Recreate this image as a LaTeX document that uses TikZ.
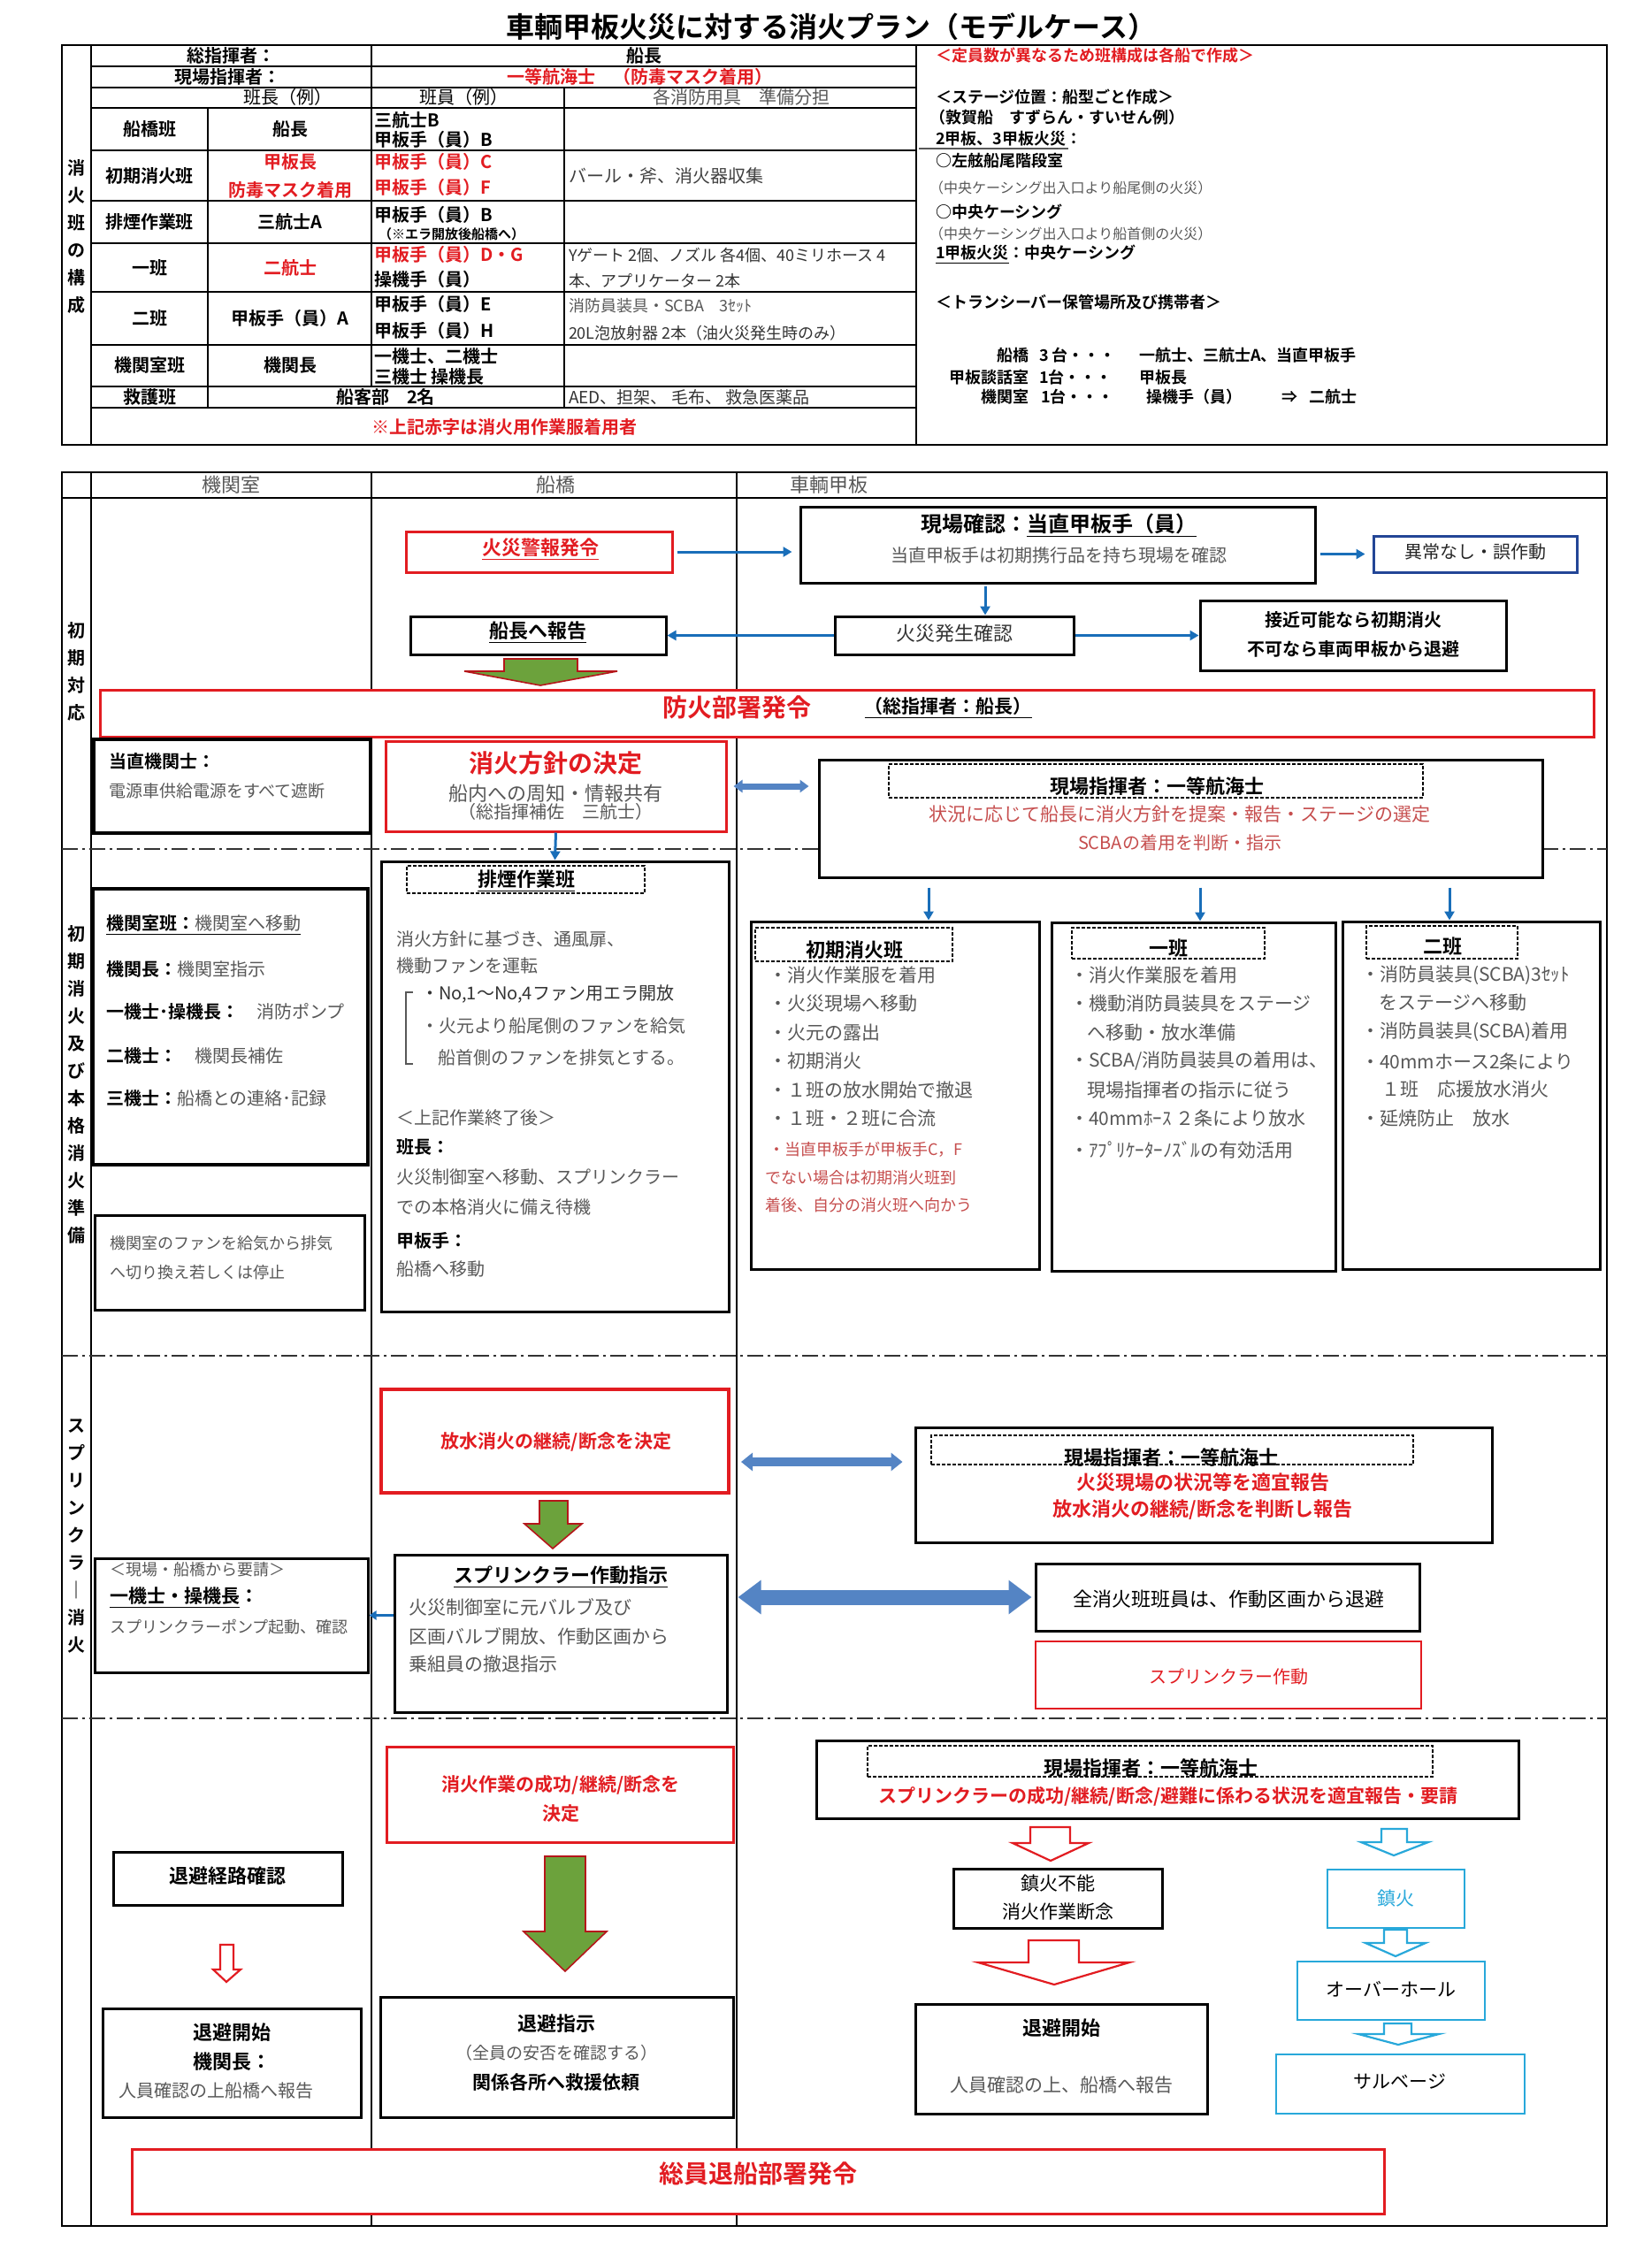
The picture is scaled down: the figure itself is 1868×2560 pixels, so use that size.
\documentclass[tikz,border=0pt]{standalone}
\usepackage{fontspec}
\setmainfont{Noto Sans CJK JP}[BoldFont={Noto Sans CJK JP Bold}]
\usetikzlibrary{arrows.meta,fit,calc}
\definecolor{myred}{RGB}{226,28,33}
\definecolor{lred}{RGB}{198,78,78}
\definecolor{tgray}{RGB}{88,88,88}
\definecolor{ablue}{RGB}{25,110,185}
\definecolor{fblue}{RGB}{84,132,196}
\definecolor{agreen}{RGB}{108,162,60}
\definecolor{mycyan}{RGB}{40,168,218}
\definecolor{nblue}{RGB}{35,70,150}
\newcommand\fsz[2]{\fontsize{#1}{#2}\selectfont}
\begin{document}
\begin{tikzpicture}[x=0.5pt,y=-0.5pt,
 txt/.style={inner sep=0pt,outer sep=0pt},
 fr/.style={txt,font=\fsz{#1}{#1}},
 fb/.style={txt,font=\bfseries\fsz{#1}{#1}},
 vlab/.style={txt,align=center,font=\bfseries\fsz{10}{15.5}},
 tline/.style={line width=1.2pt},
 lline/.style={line width=1pt},
 ddot/.style={line width=1.1pt,draw=black!80,dash pattern=on 9pt off 2.5pt on 1.5pt off 2.5pt},
 bx/.style={draw=black,line width=1.5pt,fill=white,inner sep=0pt},
 rbx/.style={draw=myred,line width=1.5pt,fill=white,inner sep=0pt},
 cbx/.style={draw=mycyan,line width=1.3pt,fill=white,inner sep=0pt},
 dbx/.style={draw=black,line width=0.9pt,dash pattern=on 2pt off 1pt,inner sep=0pt},
 barr/.style={draw=ablue,line width=1.5pt,-{Triangle[length=5pt,width=5.5pt]}},
 garr/.style={draw=myred!80!black,fill=agreen,line width=0.8pt},
 rharr/.style={draw=myred,fill=white,line width=1.1pt},
 charr/.style={draw=mycyan,fill=white,line width=1.1pt},
]
\useasboundingbox (0,0) rectangle (1868,2560);
\fill[white] (0,0) rectangle (1868,2560);

% ---------------- title ----------------
\node[fb=16] (title) at (940,30) {車輌甲板火災に対する消火プラン（モデルケース）};

% ---------------- top table ----------------
\draw[tline] (70,51) rectangle (1817,503);
\draw[tline] (103,51) -- (103,503);
\draw[tline] (1036,51) -- (1036,503);
\foreach \yy in {75,99,122,170,227,275,330,390,437,461} \draw[tline] (103,\yy) -- (1036,\yy);
\draw[tline] (420,51) -- (420,437);
\draw[tline] (638,99) -- (638,461);
\draw[tline] (235,122) -- (235,461);

\node[vlab] (tvl) at (86,268) {消\\火\\班\\の\\構\\成};

\node[fb=10] (c1) at (261,63) {総指揮者：};
\node[fb=10] (c2) at (728,63) {船長};
\node[fb=10] (c3) at (257,87) {現場指揮者：};
\node[fb=10,text=myred] (c4) at (723,87) {一等航海士　（防毒マスク着用）};
\node[fr=10] (h1) at (325,110) {班長（例）};
\node[fr=10] (h2) at (524,110) {班員（例）};
\node[fr=10,text=tgray] (h3) at (838,110) {各消防用具　準備分担};

\node[fb=10] (r1a) at (169,146) {船橋班};
\node[fb=10] (r1b) at (328,146) {船長};
\node[fb=10,anchor=west] (r1c) at (423,136) {三航士B};
\node[fb=10,anchor=west] (r1d) at (423,158) {甲板手（員）B};

\node[fb=10] (r2a) at (169,199) {初期消火班};
\node[fb=10,text=myred] (r2b) at (328,183) {甲板長};
\node[fb=10,text=myred] (r2c) at (328,215) {防毒マスク着用};
\node[fb=10,text=myred,anchor=west] (r2d) at (423,183) {甲板手（員）C};
\node[fb=10,text=myred,anchor=west] (r2e) at (423,212) {甲板手（員）F};
\node[fr=10,text=black!75,anchor=west] (r2f) at (643,199) {バール・斧、消火器収集};

\node[fb=10] (r3a) at (169,251) {排煙作業班};
\node[fb=10] (r3b) at (328,251) {三航士A};
\node[fb=10,anchor=west] (r3c) at (423,243) {甲板手（員）B};
\node[fb=7.5,anchor=west] (r3d) at (428,265) {（※エラ開放後船橋へ）};

\node[fb=10] (r4a) at (169,303) {一班};
\node[fb=10,text=myred] (r4b) at (328,303) {二航士};
\node[fb=10,text=myred,anchor=west] (r4c) at (423,288) {甲板手（員）D・G};
\node[fb=10,anchor=west] (r4d) at (423,316) {操機手（員）};
\node[fr=9,text=black!80,anchor=west] (r4e) at (643,289) {Yゲート 2個、ノズル 各4個、40ミリホース 4};
\node[fr=9,text=black!80,anchor=west] (r4f) at (643,318) {本、アプリケーター 2本};

\node[fb=10] (r5a) at (169,360) {二班};
\node[fb=10] (r5b) at (328,360) {甲板手（員）A};
\node[fb=10,anchor=west] (r5c) at (423,344) {甲板手（員）E};
\node[fb=10,anchor=west] (r5d) at (423,374) {甲板手（員）H};
\node[fr=9,text=tgray,anchor=west] (r5e) at (643,346) {消防員装具・SCBA　3ｾｯﾄ};
\node[fr=9,text=black!80,anchor=west] (r5f) at (643,377) {20L泡放射器 2本（油火災発生時のみ）};

\node[fb=10] (r6a) at (169,413) {機関室班};
\node[fb=10] (r6b) at (328,413) {機関長};
\node[fb=10,anchor=west] (r6c) at (423,403) {一機士、二機士};
\node[fb=10,anchor=west] (r6d) at (423,426) {三機士 操機長};

\node[fb=10] (r7a) at (169,449) {救護班};
\node[fb=10] (r7b) at (436,449) {船客部　2名};
\node[fr=9.5,text=black!80,anchor=west] (r7c) at (643,449) {AED、担架、 毛布、 救急医薬品};

\node[fb=10,text=myred] (foot) at (570,483) {※上記赤字は消火用作業服着用者};

% right panel
\node[fb=9,text=myred,anchor=west] (p1) at (1058,63) {＜定員数が異なるため班構成は各船で作成＞};
\node[fb=9,anchor=west] (p2) at (1058,110) {＜ステージ位置：船型ごと作成＞};
\node[fb=9,anchor=west] (p3) at (1051,133) {（敦賀船　すずらん・すいせん例）};
\node[fb=9,anchor=west] (p4) at (1058,157) {2甲板、3甲板火災：};
\draw[tgray,line width=1pt] (1039,168) -- (1208,168);
\node[fb=9,anchor=west] (p5) at (1058,182) {○左舷船尾階段室};
\node[fr=8,text=tgray,anchor=west] (p6) at (1051,212) {（中央ケーシング出入口より船尾側の火災）};
\node[fb=9,anchor=west] (p7) at (1058,240) {○中央ケーシング};
\node[fr=8,text=tgray,anchor=west] (p8) at (1051,264) {（中央ケーシング出入口より船首側の火災）};
\node[fb=9,anchor=west] (p9) at (1058,288) {\underline{1甲板火災}：中央ケーシング};
\node[fb=9,anchor=west] (p10) at (1058,342) {＜トランシーバー保管場所及び携帯者＞};
\node[fb=9,anchor=east] (q1a) at (1163,402) {船橋};
\node[fb=9,anchor=west] (q1b) at (1175,402) {3 台・・・};
\node[fb=9,anchor=west] (q1c) at (1288,402) {一航士、三航士A、当直甲板手};
\node[fb=9,anchor=east] (q2a) at (1163,427) {甲板談話室};
\node[fb=9,anchor=west] (q2b) at (1175,427) {1台・・・};
\node[fb=9,anchor=west] (q2c) at (1288,427) {甲板長};
\node[fb=9,anchor=east] (q3a) at (1163,449) {機関室};
\node[fb=9,anchor=west] (q3b) at (1177,449) {1台・・・};
\node[fb=9,anchor=west] (q3c) at (1296,449) {操機手（員）};
\node[fb=9,anchor=west] (q3d) at (1449,449) {⇒};
\node[fb=9,anchor=west] (q3e) at (1480,449) {二航士};

% ---------------- lower swimlane table ----------------
\draw[lline] (70,534) rectangle (1817,2517);
\draw[lline] (70,563) -- (1817,563);
\foreach \xx in {103,420,833} \draw[lline] (\xx,534) -- (\xx,2517);
\foreach \yy in {960,1533,1943} \draw[ddot] (70,\yy) -- (1817,\yy);

\node[fr=11,text=tgray] (lane1) at (261,548) {機関室};
\node[fr=11,text=tgray] (lane2) at (628,548) {船橋};
\node[fr=11,text=tgray,anchor=west] (lane3) at (893,548) {車輌甲板};

\node[vlab] (ph1) at (86,759) {初\\期\\対\\応};
\node[vlab] (ph2) at (86,1226) {初\\期\\消\\火\\及\\び\\本\\格\\消\\火\\準\\備};
\node[vlab] (ph3) at (86,1737) {ス\\プ\\リ\\ン\\ク\\ラ\\｜\\消\\火};

% ===== phase 1 =====
\node[rbx,fit={(459,601)(760,647)}] (alarm) {};
\node[fb=11,text=myred] at (611,621) {\underline{火災警報発令}};
\node[bx,fit={(464,697)(753,740)}] (report) {};
\node[fb=11] at (608,715) {\underline{船長へ報告}};
\node[bx,fit={(905,573)(1487,659)}] (check) {};
\node[fb=12] at (1197,594) {現場確認：\underline{当直甲板手（員）}};
\node[fr=10,text=tgray] at (1197,628) {当直甲板手は初期携行品を持ち現場を確認};
\node[draw=nblue,line width=1.5pt,fill=white,inner sep=0pt,fit={(1553,606)(1783,647)}] (normal) {};
\node[fr=10,text=black!85] at (1668,624) {異常なし・誤作動};
\node[bx,fit={(944,697)(1214,740)}] (fireconf) {};
\node[fr=11,text=black!80] at (1079,716) {火災発生確認};
\node[bx,fit={(1357,679)(1703,758)}] (approach) {};
\node[fb=10] at (1530,701) {接近可能なら初期消火};
\node[fb=10] at (1530,734) {不可なら車両甲板から退避};

\draw[garr] (570,745) -- (653,745) -- (653,759) -- (698,759) -- (611,775) -- (525,759) -- (570,759) -- cycle;

\node[rbx,fit={(113,780)(1802,833)}] (defense) {};
\node[fb=14,text=myred] at (833,800) {防火部署発令};
\node[fb=10.5] at (1072,801) {\underline{（総指揮者：船長）}};

\node[bx,line width=2pt,fit={(106,836)(419,942)}] (watcheng) {};
\node[fb=10,anchor=west] at (123,861) {当直機関士：};
\node[fr=9.5,text=tgray,anchor=west] at (123,894) {電源車供給電源をすべて遮断};
\node[rbx,fit={(436,838)(821,940)}] (policy) {};
\node[fb=14,text=myred] at (628,863) {消火方針の決定};
\node[fr=11,text=tgray] at (628,897) {船内への周知・情報共有};
\node[fr=10,text=tgray] at (628,918) {（総指揮補佐　三航士）};

\node[bx,fit={(926,859)(1744,992)}] (onsiteA) {};
\node[dbx,fit={(1005,864)(1609,902)}] (onsiteAt) {};
\node[fb=11] at (1308,889) {現場指揮者：一等航海士};
\node[fr=10.5,text=lred] at (1334,921) {状況に応じて船長に消火方針を提案・報告・ステージの選定};
\node[fr=10,text=lred] at (1334,953) {SCBAの着用を判断・指示};

\coordinate (fcx) at ([xshift=17.5pt]fireconf.north);
\draw[barr,shorten >=4pt,shorten <=2pt] (alarm.east) -- (alarm.east -| check.west);
\draw[barr,shorten >=4pt,shorten <=2pt] (check.east |- normal.west) -- (normal.west);
\draw[barr,shorten <=1pt] (fcx |- check.south) -- (fcx);
\draw[barr] (fireconf.west) -- (report.east);
\draw[barr] (fireconf.east) -- (approach.west);
\draw[draw=fblue,line width=3.5pt,{Triangle[length=5pt,width=7pt]}-{Triangle[length=5pt,width=7pt]},shorten <=3.5pt,shorten >=5pt] (policy.east) -- (policy.east -| onsiteA.west);

% ===== phase 2 =====
\node[bx,line width=2pt,fit={(105,1005)(416,1317)}] (engteam) {};
\node[fr=10,anchor=west] at (120,1046) {\underline{\textbf{機関室班：}\textcolor{tgray}{機関室へ移動}}};
\node[fr=10,anchor=west] at (120,1096) {\textbf{機関長：}\textcolor{tgray}{機関室指示}};
\node[fr=10,anchor=west] at (120,1144) {\textbf{一機士･操機長：}\textcolor{tgray}{　消防ポンプ}};
\node[fr=10,anchor=west] at (120,1194) {\textbf{二機士：}\textcolor{tgray}{　機関長補佐}};
\node[fr=10,anchor=west] at (120,1242) {\textbf{三機士：}\textcolor{tgray}{船橋との連絡･記録}};

\node[bx,fit={(107,1374)(412,1481)}] (fanbox) {};
\node[fr=9,text=tgray,anchor=west] at (124,1406) {機関室のファンを給気から排気};
\node[fr=9,text=tgray,anchor=west] at (124,1439) {へ切り換え若しくは停止};

\node[bx,fit={(431,974)(824,1483)}] (smoke) {};
\node[dbx,fit={(460,979)(729,1010)}] (smoket) {};
\node[fb=11] at (595,996) {\underline{排煙作業班}};
\node[fr=10,text=tgray,anchor=west] at (448,1062) {消火方針に基づき、通風扉、};
\node[fr=10,text=tgray,anchor=west] at (448,1092) {機動ファンを運転};
\node[fr=10,text=black!80,anchor=west] at (476,1124) {・No,1～No,4ファン用エラ開放};
\node[fr=10,text=tgray,anchor=west] at (476,1160) {・火元より船尾側のファンを給気};
\node[fr=10,text=tgray,anchor=west] at (495,1196) {船首側のファンを排気とする。};
\draw[tgray,line width=0.7pt] (467,1122) -- (459,1122) -- (459,1203) -- (467,1203);
\node[fr=10,text=tgray,anchor=west] at (448,1264) {＜上記作業終了後＞};
\node[fb=10,anchor=west] at (448,1297) {班長：};
\node[fr=10,text=tgray,anchor=west] at (448,1331) {火災制御室へ移動、スプリンクラー};
\node[fr=10,text=tgray,anchor=west] at (448,1365) {での本格消火に備え待機};
\node[fb=10,anchor=west] at (448,1403) {甲板手：};
\node[fr=10,text=tgray,anchor=west] at (448,1435) {船橋へ移動};

\draw[barr] (policy.south) -- (smoke.north);

\node[bx,fit={(849,1042)(1175,1435)}] (team1) {};
\node[bx,fit={(1189,1043)(1510,1437)}] (team2) {};
\node[bx,fit={(1518,1042)(1809,1435)}] (team3) {};
\node[dbx,fit={(854,1049)(1077,1087)}] (team1t) {};
\node[dbx,fit={(1212,1049)(1430,1084)}] (team2t) {};
\node[dbx,fit={(1545,1047)(1716,1084)}] (team3t) {};
\node[fb=11] at (966,1074) {初期消火班};
\node[fb=11] at (1321,1072) {一班};
\node[fb=11] at (1631,1070) {二班};

\coordinate (ax1) at (1050,0);
\coordinate (ax2) at (1357,0);
\coordinate (ax3) at (1639,0);
\draw[barr,shorten <=5pt] (onsiteA.south -| ax1) -- (team1.north -| ax1);
\draw[barr,shorten <=5pt] (onsiteA.south -| ax2) -- (team2.north -| ax2);
\draw[barr,shorten <=5pt] (onsiteA.south -| ax3) -- (team3.north -| ax3);

\node[fr=10.5,text=tgray,anchor=west] at (869,1103) {・消火作業服を着用};
\node[fr=10.5,text=tgray,anchor=west] at (869,1135) {・火災現場へ移動};
\node[fr=10.5,text=tgray,anchor=west] at (869,1168) {・火元の露出};
\node[fr=10.5,text=tgray,anchor=west] at (869,1200) {・初期消火};
\node[fr=10.5,text=tgray,anchor=west] at (869,1233) {・１班の放水開始で撤退};
\node[fr=10.5,text=tgray,anchor=west] at (869,1265) {・１班・２班に合流};
\node[fr=9,text=lred,anchor=west] at (869,1300) {・当直甲板手が甲板手C，F};
\node[fr=9,text=lred,anchor=west] at (865,1332) {でない場合は初期消火班到};
\node[fr=9,text=lred,anchor=west] at (865,1363) {着後、自分の消火班へ向かう};

\node[fr=10.5,text=tgray,anchor=west] at (1210,1103) {・消火作業服を着用};
\node[fr=10.5,text=tgray,anchor=west] at (1210,1135) {・機動消防員装具をステージ};
\node[fr=10.5,text=tgray,anchor=west] at (1229,1168) {へ移動・放水準備};
\node[fr=10.5,text=tgray,anchor=west] at (1210,1200) {・SCBA/消防員装具の着用は、};
\node[fr=10.5,text=tgray,anchor=west] at (1229,1233) {現場指揮者の指示に従う};
\node[fr=10.5,text=tgray,anchor=west] at (1210,1265) {・40mmﾎｰｽ ２条により放水};
\node[fr=10.5,text=tgray,anchor=west] at (1210,1300) {・ｱﾌﾟﾘｹｰﾀｰﾉｽﾞﾙの有効活用};

\node[fr=10.5,text=tgray,anchor=west] at (1539,1103) {・消防員装具(SCBA)3ｾｯﾄ};
\node[fr=10.5,text=tgray,anchor=west] at (1559,1134) {をステージへ移動};
\node[fr=10.5,text=tgray,anchor=west] at (1539,1167) {・消防員装具(SCBA)着用};
\node[fr=10.5,text=tgray,anchor=west] at (1539,1200) {・40mmホース2条により};
\node[fr=10.5,text=tgray,anchor=west] at (1562,1232) {１班　応援放水消火};
\node[fr=10.5,text=tgray,anchor=west] at (1539,1265) {・延焼防止　放水};

% ===== phase 3 =====
\node[rbx,line width=2pt,fit={(431,1571)(824,1688)}] (decide) {};
\node[fb=10.5,text=myred] at (629,1630) {放水消火の継続/断念を決定};
\draw[garr] (610,1697) -- (642,1697) -- (642,1723) -- (658,1723) -- (625,1751) -- (593,1723) -- (610,1723) -- cycle;

\node[bx,fit={(446,1758)(822,1936)}] (sprinstr) {};
\node[fb=11] at (634,1783) {\underline{スプリンクラー作動指示}};
\node[fr=10.5,text=tgray,anchor=west] at (462,1817) {火災制御室に元バルブ及び};
\node[fr=10.5,text=tgray,anchor=west] at (462,1850) {区画バルブ開放、作動区画から};
\node[fr=10.5,text=tgray,anchor=west] at (462,1882) {乗組員の撤退指示};

\node[bx,fit={(107,1762)(416,1891)}] (pump) {};
\node[fr=9,text=tgray,anchor=west] at (124,1775) {＜現場・船橋から要請＞};
\node[fb=10.5,anchor=west] at (124,1807) {\underline{一機士・操機長}：};
\node[fr=9,text=tgray,anchor=west] at (124,1840) {スプリンクラーポンプ起動、確認};
\draw[barr,line width=1.3pt,-{Triangle[length=4pt,width=5pt]}] (sprinstr.west |- pump.east) -- (pump.east);

\node[bx,fit={(1035,1614)(1687,1744)}] (onsiteB) {};
\node[dbx,fit={(1053,1623)(1598,1656)}] (onsiteBt) {};
\node[fb=11] at (1324,1648) {現場指揮者：一等航海士};
\node[fb=11,text=myred] at (1360,1676) {火災現場の状況等を適宜報告};
\node[fb=11,text=myred] at (1360,1707) {放水消火の継続/断念を判断し報告};

\node[bx,fit={(1171,1768)(1605,1844)}] (allret) {};
\node[fr=11] at (1389,1808) {全消火班班員は、作動区画から退避};
\node[rbx,line width=1.3pt,fit={(1171,1856)(1607,1932)}] (spract) {};
\node[fr=10,text=myred] at (1389,1896) {スプリンクラー作動};

\coordinate (yA) at (0,1653);
\draw[draw=fblue,line width=5pt,{Triangle[length=6.5pt,width=10pt]}-{Triangle[length=6.5pt,width=10pt]},shorten <=6pt,shorten >=6.5pt] (decide.east |- yA) -- (onsiteB.west |- yA);
\draw[draw=fblue,line width=8.5pt,{Triangle[length=13pt,width=18.5pt]}-{Triangle[length=13pt,width=18.5pt]},shorten <=5.5pt,shorten >=1.5pt] (sprinstr.east |- allret.west) -- (allret.west);

% ===== phase 4 =====
\node[rbx,fit={(437,1975)(829,2083)}] (decide2) {};
\node[fb=10.5,text=myred] at (634,2018) {消火作業の成功/継続/断念を};
\node[fb=10.5,text=myred] at (634,2051) {決定};
\draw[garr] (616,2099) -- (662,2099) -- (662,2184) -- (686,2184) -- (639,2229) -- (592,2184) -- (616,2184) -- cycle;

\node[bx,fit={(128,2094)(387,2154)}] (route) {};
\node[fb=11] at (257,2121) {退避経路確認};
\draw[rharr] (249,2199) -- (264,2199) -- (264,2227) -- (272,2227) -- (256,2241) -- (241,2227) -- (249,2227) -- cycle;

\node[bx,fit={(116,2271)(408,2394)}] (evac1) {};
\node[fb=11] at (262,2298) {退避開始};
\node[fb=11] at (262,2331) {機関長：};
\node[fr=10,text=tgray] at (244,2364) {人員確認の上船橋へ報告};

\node[bx,fit={(430,2258)(829,2394)}] (evacord) {};
\node[fb=11] at (629,2288) {退避指示};
\node[fr=9.5,text=tgray] at (629,2321) {（全員の安否を確認する）};
\node[fb=10.5] at (629,2354) {関係各所へ救援依頼};

\node[rbx,fit={(149,2430)(1565,2503)}] (abandon) {};
\node[fb=14,text=myred] at (857,2458) {総員退船部署発令};

\node[bx,fit={(923,1968)(1717,2056)}] (onsiteC) {};
\node[dbx,fit={(981,1974)(1620,2009)}] (onsiteCt) {};
\node[fb=11] at (1301,1999) {現場指揮者：一等航海士};
\node[fb=10.5,text=myred] at (1321,2031) {スプリンクラーの成功/継続/断念/避難に係わる状況を適宜報告・要請};

\draw[rharr] (1165,2066) -- (1210,2066) -- (1210,2084) -- (1231,2084) -- (1188,2104) -- (1145,2084) -- (1165,2084) -- cycle;
\node[bx,fit={(1078,2113)(1314,2180)}] (nofire) {};
\node[fr=10.5] at (1196,2129) {鎮火不能};
\node[fr=10.5] at (1196,2162) {消火作業断念};
\draw[rharr] (1163,2194) -- (1220,2194) -- (1220,2219) -- (1277,2219) -- (1192,2244) -- (1106,2219) -- (1163,2219) -- cycle;
\node[bx,fit={(1035,2266)(1365,2390)}] (evac2) {};
\node[fb=11] at (1200,2293) {退避開始};
\node[fr=10.5,text=tgray] at (1200,2358) {人員確認の上、船橋へ報告};

\draw[charr] (1562,2068) -- (1591,2068) -- (1591,2083) -- (1615,2083) -- (1576,2098) -- (1539,2083) -- (1562,2083) -- cycle;
\node[cbx,fit={(1501,2114)(1656,2180)}] (extin) {};
\node[fr=10.5,text=mycyan] at (1578,2146) {鎮火};
\draw[charr] (1565,2182) -- (1591,2182) -- (1591,2197) -- (1612,2197) -- (1578,2212) -- (1544,2197) -- (1565,2197) -- cycle;
\node[cbx,fit={(1467,2218)(1679,2284)}] (overhaul) {};
\node[fr=10.5] at (1573,2249) {オーバーホール};
\draw[charr] (1565,2288) -- (1596,2288) -- (1596,2300) -- (1627,2300) -- (1581,2312) -- (1536,2300) -- (1565,2300) -- cycle;
\node[cbx,fit={(1443,2323)(1724,2390)}] (salvage) {};
\node[fr=10.5] at (1583,2354) {サルベージ};

\end{tikzpicture}
\end{document}
